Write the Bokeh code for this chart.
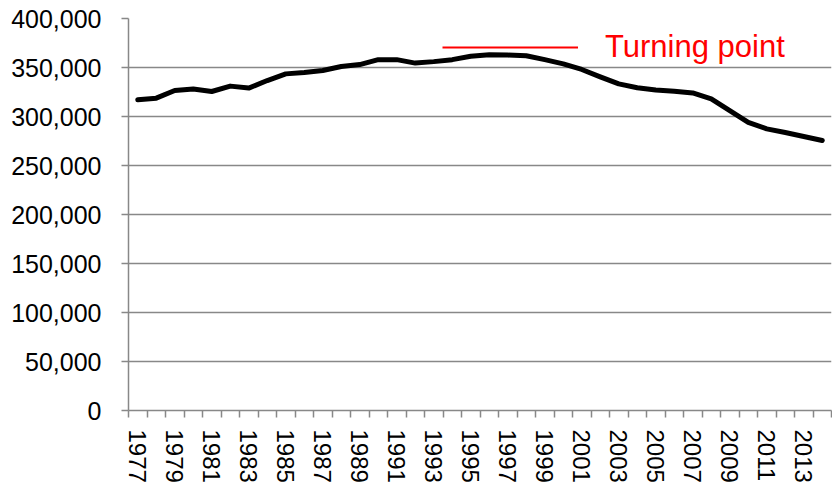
from bokeh.plotting import figure
from bokeh.models import (ColumnDataSource, Range1d, FixedTicker, NumeralTickFormatter,
                          Legend, LegendItem)
from bokeh.embed import file_html
from bokeh.resources import INLINE

years = list(range(1977, 2015))
values = [317000, 318700, 326500, 328000, 325500, 331000, 329000, 336700, 343500, 345000,
          347000, 351000, 353000, 358000, 358000, 354500, 356000, 358000, 361500, 363000,
          362700, 362000, 358000, 353700, 348000, 340500, 333300, 329300, 327000, 325800,
          324000, 318000, 306000, 294000, 287400, 283700, 279600, 275500]
label_years = years[::2]
y_ticks = list(range(0, 400001, 50000))
legend_label = "Turning point"

src = ColumnDataSource(dict(year=years, value=values))

p = figure(width=832, height=489, output_backend="svg", toolbar_location=None,
           x_range=Range1d(years[0] - 0.5, years[-1] + 0.5),
           y_range=Range1d(0, 400000),
           min_border_left=128, min_border_right=1, min_border_top=18, min_border_bottom=79)
p.outline_line_color = None
p.background_fill_color = "white"

p.line("year", "value", source=src, line_color="black", line_width=5,
       line_join="round", line_cap="round")

# legend-only renderer (no visible data)
dummy = p.line(x=[float("nan")], y=[float("nan")], line_color="#ff0000", line_width=2)
leg = Legend(items=[LegendItem(label=legend_label, renderers=[dummy])],
             location=(314, 345), orientation="horizontal",
             glyph_width=136, glyph_height=30, label_height=30, label_standoff=27,
             padding=0, margin=0, spacing=0,
             label_text_font="Liberation Sans", label_text_font_size="31px",
             label_text_color="#ff0000",
             background_fill_alpha=0, border_line_color=None)
p.add_layout(leg)

font = "Liberation Sans"
xa = p.xaxis[0]
xa.ticker = FixedTicker(ticks=label_years, minor_ticks=[y - 0.5 for y in years] + [years[-1] + 0.5])
xa.major_label_orientation = "vertical"
xa.major_tick_line_color = None
xa.major_tick_out = 7
xa.major_tick_in = 0
xa.minor_tick_out = 7
xa.minor_tick_in = 0
xa.minor_tick_line_color = "#888888"
xa.minor_tick_line_width = 1.5
xa.axis_line_color = "#888888"
xa.axis_line_width = 1.5
xa.major_label_text_font = font
xa.major_label_text_font_size = "24px"
xa.major_label_text_color = "black"
xa.major_label_standoff = 12

ya = p.yaxis[0]
ya.ticker = FixedTicker(ticks=y_ticks)
ya.formatter = NumeralTickFormatter(format="0,0")
ya.major_tick_out = 7
ya.major_tick_in = 0
ya.minor_tick_line_color = None
ya.major_tick_line_color = "#888888"
ya.major_tick_line_width = 1.5
ya.axis_line_color = "#888888"
ya.axis_line_width = 1.5
ya.major_label_text_font = font
ya.major_label_text_font_size = "25px"
ya.major_label_text_color = "black"
ya.major_label_standoff = 20

p.xgrid.grid_line_color = None
p.ygrid.grid_line_color = "#888888"
p.ygrid.grid_line_width = 1.5

open("out.html", "w").write(file_html(p, INLINE))
